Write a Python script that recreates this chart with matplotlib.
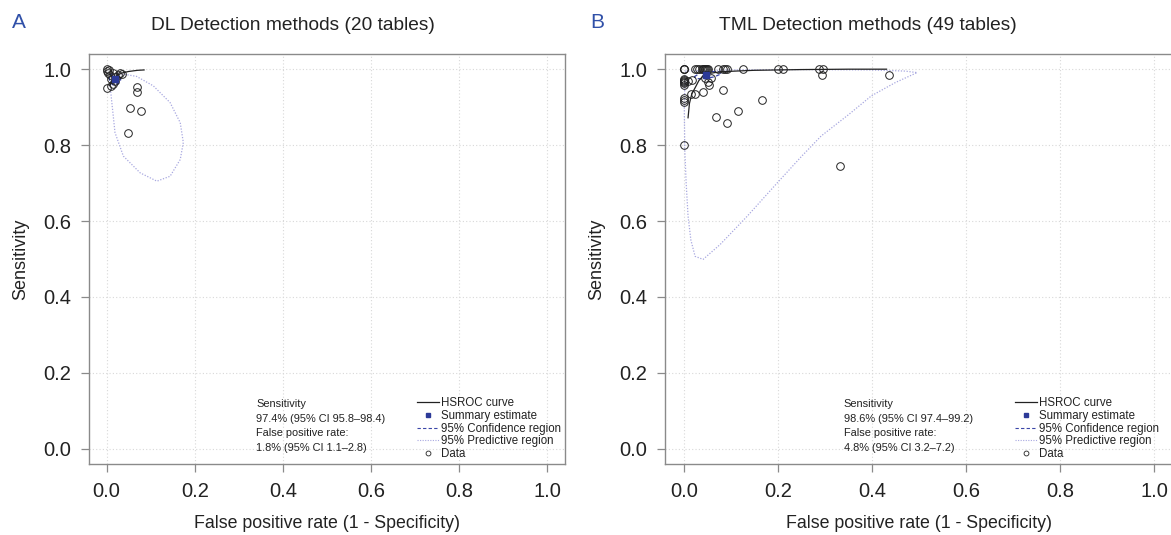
import matplotlib
matplotlib.use("Agg")
import matplotlib.pyplot as plt
from matplotlib.lines import Line2D
import numpy as np

plt.rcParams['font.family'] = ['Liberation Sans', 'DejaVu Sans']

# ---------------- Panel A data (DL, 20 tables) ----------------
a_fpr = [0.000, 0.000, 0.003, 0.008, 0.015, 0.025, 0.030, 0.035, 0.010, 0.020,
         0.000, 0.010, 0.015, 0.070, 0.070, 0.053, 0.078, 0.048, 0.020, 0.005]
a_sens = [1.000, 0.995, 0.990, 0.985, 0.990, 0.985, 0.990, 0.988, 0.975, 0.970,
          0.950, 0.955, 0.962, 0.952, 0.940, 0.898, 0.889, 0.831, 0.980, 0.997]
a_summary = (0.018, 0.974)
a_hsroc_x = [0.008, 0.012, 0.018, 0.025, 0.035, 0.050, 0.070, 0.085]
a_hsroc_y = [0.958, 0.970, 0.978, 0.985, 0.990, 0.994, 0.997, 0.998]
a_conf_x = [0.008, 0.020, 0.030, 0.032, 0.027, 0.015, 0.008, 0.006, 0.008]
a_conf_y = [0.985, 0.990, 0.985, 0.972, 0.962, 0.958, 0.965, 0.977, 0.985]
a_pred_x = [0.008, 0.011, 0.019, 0.038, 0.076, 0.114, 0.144, 0.167, 0.174, 0.167,
            0.144, 0.106, 0.068, 0.038, 0.015, 0.008]
a_pred_y = [0.956, 0.921, 0.833, 0.771, 0.727, 0.705, 0.718, 0.762, 0.807, 0.859,
            0.912, 0.956, 0.981, 0.987, 0.981, 0.956]
a_text = "Sensitivity\n97.4% (95% CI 95.8\u201398.4)\nFalse positive rate:\n1.8% (95% CI 1.1\u20132.8)"
a_title = "DL Detection methods (20 tables)"

# ---------------- Panel B data (TML, 49 tables) ----------------
b_fpr = [0.000, 0.000, 0.000, 0.024, 0.027, 0.033, 0.038, 0.041, 0.045, 0.048, 0.052,
         0.072, 0.084, 0.088, 0.091, 0.126, 0.200, 0.211, 0.287, 0.295,
         0.293, 0.436,
         0.000, 0.000, 0.000, 0.000, 0.009, 0.018, 0.045, 0.057, 0.052, 0.053,
         0.083, 0.040, 0.016, 0.023,
         0.000, 0.000, 0.000,
         0.166, 0.116, 0.068, 0.092, 0.000, 0.332,
         0.043, 0.050, 0.000, 0.000]
b_sens = [1.000, 1.000, 1.000, 1.000, 1.000, 1.000, 1.000, 1.000, 1.000, 1.000, 1.000,
          1.000, 1.000, 1.000, 1.000, 1.000, 1.000, 1.000, 1.000, 1.000,
          0.984, 0.985,
          0.975, 0.969, 0.963, 0.959, 0.969, 0.972, 0.976, 0.978, 0.966, 0.959,
          0.946, 0.941, 0.934, 0.934,
          0.925, 0.919, 0.914,
          0.920, 0.890, 0.875, 0.857, 0.800, 0.744,
          1.000, 1.000, 0.972, 0.966]
b_summary = (0.048, 0.986)
b_hsroc_x = [0.009, 0.012, 0.017, 0.024, 0.032, 0.041, 0.055, 0.077, 0.110, 0.149, 0.250, 0.350, 0.431]
b_hsroc_y = [0.872, 0.910, 0.935, 0.951, 0.970, 0.982, 0.989, 0.993, 0.995, 0.997, 0.999, 1.000, 1.000]
b_conf_x = [0.022, 0.035, 0.055, 0.075, 0.080, 0.065, 0.045, 0.028, 0.022]
b_conf_y = [0.980, 0.990, 0.994, 0.993, 0.988, 0.980, 0.975, 0.975, 0.980]
b_pred_x = [0.003, 0.100, 0.250, 0.400, 0.470, 0.496, 0.450, 0.399, 0.350, 0.292, 0.250,
            0.199, 0.135, 0.077, 0.041, 0.024, 0.015, 0.009, 0.005, 0.002, 0.001, 0.003]
b_pred_y = [0.995, 0.998, 0.999, 0.998, 0.995, 0.991, 0.965, 0.930, 0.880, 0.824, 0.770,
            0.701, 0.613, 0.538, 0.499, 0.507, 0.550, 0.613, 0.700, 0.789, 0.900, 0.995]
b_text = "Sensitivity\n98.6% (95% CI 97.4\u201399.2)\nFalse positive rate:\n4.8% (95% CI 3.2\u20137.2)"
b_title = "TML Detection methods (49 tables)"

ticks = [0.0, 0.2, 0.4, 0.6, 0.8, 1.0]
tick_labels = ["0.0", "0.2", "0.4", "0.6", "0.8", "1.0"]
legend_labels = ["HSROC curve", "Summary estimate", "95% Confidence region",
                 "95% Predictive region", "Data"]

W, H = 1171, 535
fig = plt.figure(figsize=(W / 100, H / 100), dpi=100)

PRED_C = '#a8a8e0'
CONF_C = '#3a46a8'
SUM_C = '#2c3a98'
GRAY = '#8a8a8a'


def panel(ax, fpr, sens, summ, hx, hy, cx, cy, px, py, txt):
    ax.set_xlim(-0.04, 1.04)
    ax.set_ylim(-0.04, 1.04)
    for t in ticks:
        ax.axvline(t, color='#d8d8d8', lw=0.8, ls=(0, (1, 2)), zorder=0)
        ax.axhline(t, color='#d8d8d8', lw=0.8, ls=(0, (1, 2)), zorder=0)
    ax.plot(px, py, color=PRED_C, lw=0.9, ls=(0, (1, 1.3)), zorder=2)
    ax.plot(cx, cy, color=CONF_C, lw=0.9, ls=(0, (3, 2)), zorder=3)
    ax.plot(hx, hy, color='#222222', lw=0.9, zorder=4)
    ax.plot(fpr, sens, ls='none', marker='o', ms=5.5, mfc='none', mec='#222222', mew=0.7, zorder=5)
    ax.plot([summ[0]], [summ[1]], ls='none', marker='s', ms=4.5, color=SUM_C, zorder=6)
    ax.set_xticks(ticks)
    ax.set_xticklabels(tick_labels)
    ax.set_yticks(ticks)
    ax.set_yticklabels(tick_labels)
    ax.tick_params(axis='both', labelsize=14.5, colors=GRAY, labelcolor='#222222',
                   length=6, width=0.9, pad=7, direction='out')
    for s in ax.spines.values():
        s.set_color(GRAY)
        s.set_linewidth(1.0)
    ax.set_xlabel("False positive rate (1 - Specificity)", fontsize=12.8, color='#222222', labelpad=10)
    ax.set_ylabel("Sensitivity", fontsize=13, color='#222222', labelpad=10)
    ax.text(0.34, 0.130, txt, fontsize=7.9, color='#222222', va='top', ha='left',
            linespacing=1.55, transform=ax.transData)
    handles = [Line2D([], [], color='#222222', lw=0.9),
               Line2D([], [], ls='none', marker='s', ms=3.5, color=SUM_C),
               Line2D([], [], color=CONF_C, lw=0.8, ls=(0, (3, 2))),
               Line2D([], [], color=PRED_C, lw=0.8, ls=(0, (1, 1.3))),
               Line2D([], [], ls='none', marker='o', ms=3.5, mfc='none', mec='#222222', mew=0.6)]
    leg = ax.legend(handles, legend_labels, loc='upper left', bbox_to_anchor=(0.705, 0.136),
                    bbox_transform=ax.transData, frameon=False, fontsize=8.3,
                    handlelength=1.9, handletextpad=0.15, labelspacing=0.06,
                    borderpad=0.0, borderaxespad=0.0)
    for t in leg.get_texts():
        t.set_color('#222222')


axA = fig.add_axes([89 / W, (H - 464) / H, 476 / W, 410 / H])
panel(axA, a_fpr, a_sens, a_summary, a_hsroc_x, a_hsroc_y, a_conf_x, a_conf_y,
      a_pred_x, a_pred_y, a_text)

axB = fig.add_axes([665 / W, (H - 464) / H, 508 / W, 410 / H])
panel(axB, b_fpr, b_sens, b_summary, b_hsroc_x, b_hsroc_y, b_conf_x, b_conf_y,
      b_pred_x, b_pred_y, b_text)

fig.text(293 / W, 1 - 26 / H, a_title, fontsize=13.8, color='#222222', ha='center', va='center')
fig.text(868 / W, 1 - 26 / H, b_title, fontsize=13.8, color='#222222', ha='center', va='center')
fig.text(19 / W, 1 - 23 / H, "A", fontsize=15, color='#3050a8', ha='center', va='center')
fig.text(597 / W, 1 - 23 / H, "B", fontsize=15, color='#3050a8', ha='center', va='center')

fig.savefig("out.png", dpi=100)
